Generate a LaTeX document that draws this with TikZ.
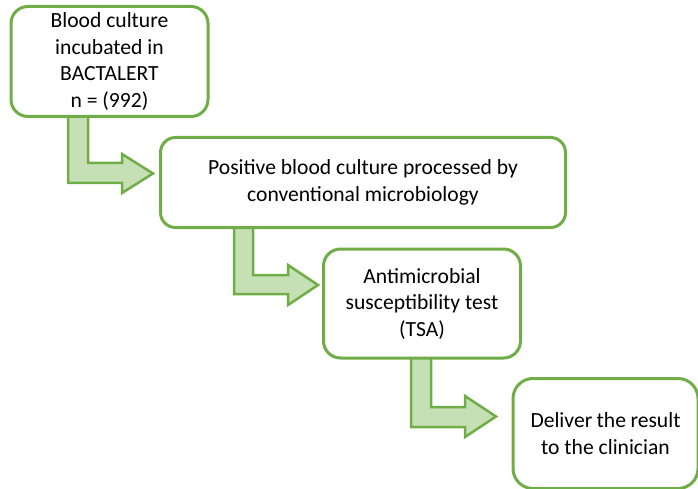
\documentclass[tikz,border=0pt]{standalone}
\usepackage{fontspec}
\setmainfont{Carlito}
\definecolor{gborder}{HTML}{70AD47}
\definecolor{gfill}{HTML}{C5E0B4}
\tikzset{
  stepbox/.style={draw=gborder, line width=3pt, fill=white, rounded corners=17pt,
    align=center, inner sep=0pt, font=\fontsize{21.6pt}{26.5pt}\selectfont, text=black},
  bentarrow/.style={draw=gborder, line width=2.5pt, fill=gfill, line join=miter}
}
\begin{document}
\begin{tikzpicture}[x=1pt, y=-1pt]
\useasboundingbox (0,0) rectangle (698,489);
% bent arrows
\draw[bentarrow] (68,110) -- (88,110) -- (88,163) -- (122,163) -- (122,154) -- (153,173.5)
  -- (122,193) -- (122,183) -- (68,183) -- cycle;
\draw[bentarrow] (234,222) -- (253,222) -- (253,275) -- (288,275) -- (288,265) -- (318,285)
  -- (288,305) -- (288,294) -- (234,294) -- cycle;
\draw[bentarrow] (411,350) -- (431,350) -- (431,407) -- (465,407) -- (465,396) -- (496,416.5)
  -- (465,437) -- (465,427) -- (411,427) -- cycle;
% boxes
\node[stepbox, minimum width=197pt, minimum height=110pt] (b1) at (109.5,61.5)
  {Blood culture\\incubated in\\BACTALERT\\n = (992)};
\node[stepbox, minimum width=405pt, minimum height=90pt, rounded corners=15pt] (b2) at (363,182.5)
  {Positive blood culture processed by\\conventional microbiology};
\node[stepbox, minimum width=197pt, minimum height=109pt] (b3) at (422,303.5)
  {Antimicrobial\\susceptibility test\\(TSA)};
\node[stepbox, minimum width=185pt, minimum height=110pt, rounded corners=20pt] (b4) at (605.5,433.5)
  {\raisebox{-2pt}{\parbox{150pt}{\centering Deliver the result\\to the clinician}}};
\end{tikzpicture}
\end{document}
